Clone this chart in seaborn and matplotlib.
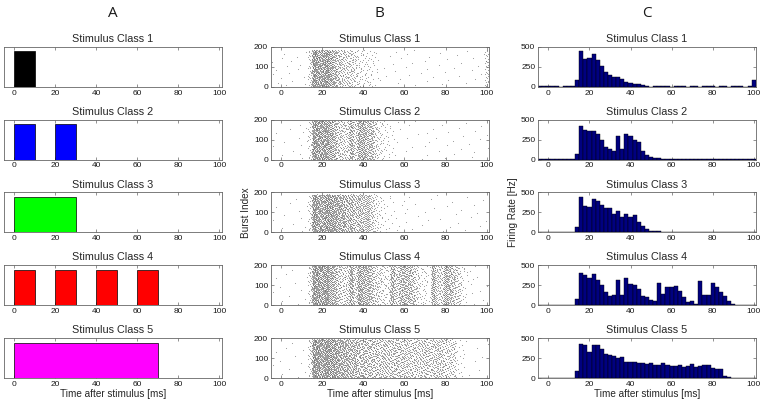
import numpy as np
import pandas as pd
import matplotlib
matplotlib.use("Agg")
import matplotlib.pyplot as plt
import seaborn as sns

# ── Stimulus protocols (column A) ─────────────────────────────
CLASS_NAMES    = ["Stimulus Class 1", "Stimulus Class 2", "Stimulus Class 3",
                  "Stimulus Class 4", "Stimulus Class 5"]
STIM_COLORS    = ["black", "blue", "#00ff00", "red", "magenta"]
STIM_ONSETS    = [[0], [0, 20], [0], [0, 20, 40, 60], [0]]
STIM_DURATIONS = [[10], [10, 10], [30], [10, 10, 10, 10], [70]]

# ── PSTH firing rates [Hz] (column C), 2 ms bins centred at -4..100 ──
BIN_CENTERS = list(range(-4, 101, 2))
RATE_1 = [5, 5, 5, 8, 5, 3, 5, 5, 5,
          90, 445, 350, 355, 415, 333, 255, 180, 150, 125, 122, 95, 55, 48, 40, 38, 18,
          5, 3, 6, 4, 8, 5, 3, 5, 6, 4, 3, 5, 6, 3, 4, 5, 6, 3, 4, 5, 3, 6, 4, 5, 3, 6,
          90]
RATE_2 = [3, 3, 3, 3, 3, 3, 3, 12, 5,
          70, 418, 375, 358, 364, 325, 240, 155, 132, 112, 290, 132, 322, 295, 240, 225,
          110, 55, 38, 25, 15, 8, 3,
          3, 5, 3, 4, 3, 6, 4, 3, 5, 3, 4, 3, 5, 3, 4, 3, 5, 4, 3, 3, 4]
RATE_3 = [3, 3, 3, 3, 3, 3, 5, 5, 5,
          70, 440, 335, 318, 412, 390, 340, 300, 308, 225, 270, 190, 230, 190, 215, 135,
          80, 42, 22, 12, 12, 6, 5, 8, 4,
          3, 4, 3, 3, 4, 3, 3, 4, 3, 3, 4, 3, 3, 4, 3, 3, 4, 3, 3]
RATE_4 = [3, 3, 5, 3, 3, 5, 3, 3, 5,
          83, 408, 380, 338, 385, 312, 250, 165, 122, 130, 313, 132, 342, 270, 258, 198,
          122, 100, 70, 58, 282, 146, 229, 232, 245, 182, 102, 42, 48, 18, 300, 130, 132,
          280, 228, 165, 115, 48, 20, 8, 8, 4, 3, 3]
RATE_5 = [3, 3, 5, 3, 3, 5, 3, 5, 3,
          83, 430, 410, 330, 418, 418, 358, 303, 290, 272, 245, 258, 202, 202, 206, 193,
          184, 171, 184, 158, 167, 184, 167, 149, 149, 158, 140, 149, 171, 140, 149, 158,
          158, 127, 114, 114, 26, 18, 4,
          3, 3, 4, 3, 3]
RATES = [RATE_1, RATE_2, RATE_3, RATE_4, RATE_5]

# number of recorded bursts per class (raster height, column B)
N_BURSTS = [185, 195, 190, 200, 195]


def halton(k, base):
    f, r = 1.0, 0.0
    while k > 0:
        f /= base
        r += f * (k % base)
        k //= base
    return r


def raster_from_psth(rates, n_bursts, binw=2.0):
    """Spread each bin's spike count (rate * bursts * binwidth) over the bursts
    and within the bin with a fixed Halton sequence (no randomness)."""
    times, bursts = [], []
    k = 0
    for c, r in zip(BIN_CENTERS, rates):
        n_spk = int(round(r * n_bursts * binw / 1000.0))
        for _ in range(n_spk):
            k += 1
            times.append(c - binw / 2 + binw * halton(k, 2))
            bursts.append(int(n_bursts * halton(k, 3)) + 1)
    return pd.DataFrame({"t": times, "burst": bursts})


# ── Style ─────────────────────────────────────────────────────
sns.set_theme(style="ticks")
plt.rcParams.update({
    "font.family": ["Liberation Sans", "DejaVu Sans"],
    "xtick.direction": "in", "ytick.direction": "in",
    "xtick.top": True, "ytick.right": True,
    "xtick.major.size": 2.5, "ytick.major.size": 2.5,
    "xtick.major.width": 0.5, "ytick.major.width": 0.5,
    "axes.linewidth": 0.6, "axes.edgecolor": "0.4",
    "xtick.color": "0.4", "ytick.color": "0.4",
    "xtick.labelcolor": "0.1", "ytick.labelcolor": "0.1",
})

fig, axes = plt.subplots(5, 3, figsize=(7.65, 4.07), dpi=100)
fig.subplots_adjust(left=0.005, right=0.988, top=0.885, bottom=0.071,
                    wspace=0.227, hspace=0.82)

edges = [c - 1 for c in BIN_CENTERS] + [BIN_CENTERS[-1] + 1]
xt = [0, 20, 40, 60, 80, 100]

for i in range(5):
    axA, axB, axC = axes[i]

    # column A: stimulus pulses
    axA.bar(STIM_ONSETS[i], [1] * len(STIM_ONSETS[i]), width=STIM_DURATIONS[i],
            align="edge", color=STIM_COLORS[i], edgecolor="black", linewidth=0.5)
    axA.set_ylim(0, 1.13)
    axA.set_yticks([])

    # column B: burst raster
    df = raster_from_psth(RATES[i], N_BURSTS[i])
    sns.scatterplot(data=df, x="t", y="burst", ax=axB, s=0.6, color="0.4",
                    linewidth=0, alpha=0.7, legend=False)
    axB.set_ylim(0, 200)
    axB.set_yticks([0, 100, 200])

    # column C: PSTH
    sns.histplot(x=BIN_CENTERS, weights=RATES[i], bins=edges, ax=axC,
                 color="#000080", edgecolor="black", linewidth=0.3, alpha=1)
    axC.set_ylim(0, 500)
    axC.set_yticks([0, 250, 500])

    for ax in (axA, axB, axC):
        ax.set_xlim(-5, 101)
        ax.set_xticks(xt)
        ax.tick_params(labelsize=6, pad=2)
        ax.set_title(CLASS_NAMES[i], fontsize=7.8, pad=3.5)
        ax.set_xlabel("")
        ax.set_ylabel("")
        for s in ax.spines.values():
            s.set_visible(True)

for ax in axes[4]:
    ax.set_xlabel("Time after stimulus [ms]", fontsize=7.2, labelpad=1)
axes[2, 1].set_ylabel("Burst Index", fontsize=7.2, labelpad=2)
axes[2, 2].set_ylabel("Firing Rate [Hz]", fontsize=7.2, labelpad=2)

for j, lab in enumerate(["A", "B", "C"]):
    pos = axes[0, j].get_position()
    fig.text((pos.x0 + pos.x1) / 2, 0.968, lab, ha="center", va="center",
             fontsize=11, family="Open Sans", color="0.1")

fig.savefig("out.png", dpi=100)
